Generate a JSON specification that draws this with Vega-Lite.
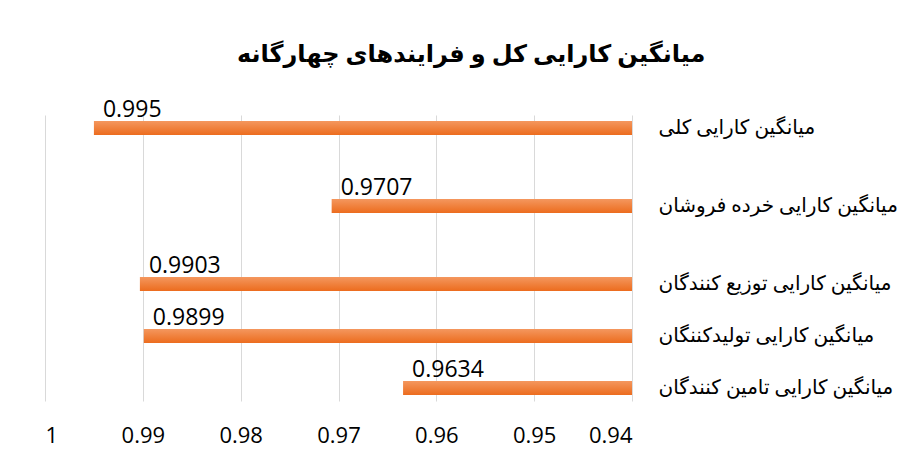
{
  "$schema": "https://vega.github.io/schema/vega-lite/v6.json",
  "autosize": {"type": "none"},
  "width": 587,
  "height": 286,
  "padding": {"left": 45, "top": 115, "right": 272, "bottom": 58},
  "background": "white",
  "title": {
    "text": "میانگین کارایی کل و فرایندهای چهارگانه",
    "font": "Liberation Serif, DejaVu Sans",
    "fontSize": 24,
    "fontWeight": "bold",
    "color": "#000000",
    "anchor": "middle",
    "frame": "bounds",
    "offset": 32
  },
  "config": {"view": {"stroke": null}},
  "data": {
    "values": [
      {"label": "میانگین کارایی کلی", "value": 0.995, "text": "0.995"},
      {"label": "میانگین کارایی خرده فروشان", "value": 0.9707, "text": "0.9707"},
      {"label": "میانگین کارایی توزیع کنندگان", "value": 0.9903, "text": "0.9903"},
      {"label": "میانگین کارایی تولیدکننگان", "value": 0.9899, "text": "0.9899"},
      {"label": "میانگین کارایی تامین کنندگان", "value": 0.9634, "text": "0.9634"}
    ]
  },
  "encoding": {
    "y": {
      "field": "label",
      "type": "nominal",
      "sort": null,
      "scale": {
        "type": "band",
        "paddingInner": 0,
        "paddingOuter": 0,
        "domain": ["میانگین کارایی کلی", "_1", "_2", "میانگین کارایی خرده فروشان", "_3", "_4", "میانگین کارایی توزیع کنندگان", "_5", "میانگین کارایی تولیدکننگان", "_6", "میانگین کارایی تامین کنندگان"]
      },
      "axis": {
        "title": null,
        "orient": "right",
        "labelAlign": "left",
        "labelPadding": 26,
        "labelFont": "Liberation Serif, DejaVu Sans",
        "labelFontSize": 20,
        "labelColor": "#000000",
        "labelLimit": 300,
        "ticks": false,
        "domain": false,
        "grid": false,
        "labelExpr": "indexof(datum.label, '_') == 0 ? '' : datum.label"
      }
    },
    "x": {
      "field": "value",
      "type": "quantitative",
      "scale": {"domain": [0.94, 1], "reverse": true, "zero": false, "nice": false},
      "axis": {
        "title": null,
        "values": [1, 0.99, 0.98, 0.97, 0.96, 0.95, 0.94],
        "labelExpr": "datum.value == 1 ? '1' : format(datum.value, '.2f')",
        "labelFont": "Open Sans",
        "labelFontSize": 22,
        "labelColor": "#000000",
        "labelPadding": 24,
        "ticks": false,
        "domain": false,
        "grid": true,
        "gridColor": "#D9D9D9",
        "gridWidth": 1
      }
    }
  },
  "layer": [
    {
      "mark": {
        "type": "bar",
        "height": 14,
        "fill": {
          "gradient": "linear",
          "x1": 0, "y1": 0, "x2": 0, "y2": 1,
          "stops": [
            {"offset": 0, "color": "#F4975E"},
            {"offset": 1, "color": "#EC6C1E"}
          ]
        }
      },
      "encoding": {
        "x2": {"datum": 0.94}
      }
    },
    {
      "mark": {
        "type": "text",
        "align": "left",
        "baseline": "alphabetic",
        "dx": 9,
        "dy": -11,
        "font": "Open Sans",
        "fontSize": 23,
        "color": "#000000"
      },
      "encoding": {
        "text": {"field": "text"}
      }
    }
  ]
}
